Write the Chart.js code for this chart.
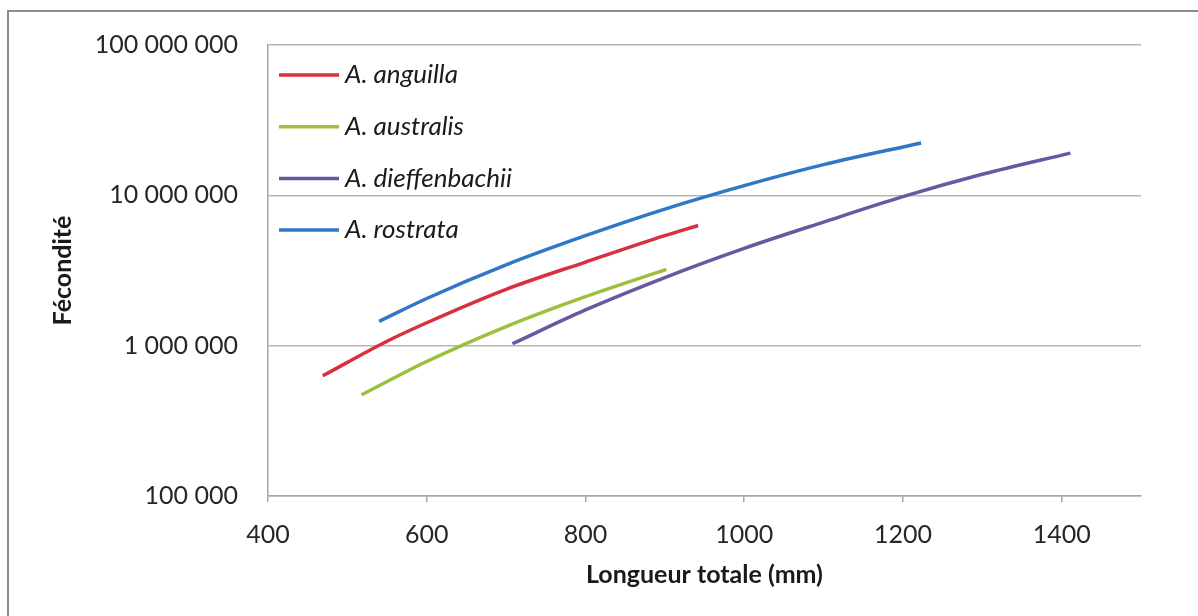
<!DOCTYPE html>
<html>
<head>
<meta charset="utf-8">
<script src="https://cdn.jsdelivr.net/npm/chart.js@4"></script>
<style>
  html, body { margin: 0; padding: 0; background: #fff; }
  #wrap { width: 1198px; height: 616px; }
</style>
</head>
<body>
<div id="wrap"><canvas id="myChart" width="1198" height="616"></canvas></div>
<script>
// séries (longueur totale en mm, fécondité)
var seriesNames = ['A. anguilla', 'A. australis', 'A. dieffenbachii', 'A. rostrata'];
var seriesColors = ['#d8303c', '#9cbf3e', '#6a57a2', '#2f78c5'];

var anguillaL = [469, 550, 600, 700, 800, 900, 942];
var anguillaF = [630000, 1070000, 1420000, 2370000, 3600000, 5400000, 6300000];

var australisL = [518, 600, 700, 800, 902];
var australisF = [472000, 785000, 1340000, 2120000, 3220000];

var dieffenbachiiL = [708, 800, 900, 1000, 1100, 1200, 1300, 1411];
var dieffenbachiiF = [1030000, 1730000, 2840000, 4440000, 6640000, 9800000, 13800000, 19100000];

var rostrataL = [540, 600, 700, 800, 900, 1000, 1100, 1223];
var rostrataF = [1450000, 2060000, 3450000, 5390000, 8100000, 11600000, 16000000, 22300000];

// graduations
var xTicks = [400, 600, 800, 1000, 1200, 1400];
var yTicks = [100000, 1000000, 10000000, 100000000];

function toPoints(xs, ys) {
  var pts = [];
  for (var i = 0; i < xs.length; i++) pts.push({ x: xs[i], y: ys[i] });
  return pts;
}
function fmt(v) {
  return String(v).replace(/\B(?=(\d{3})+(?!\d))/g, ' ');
}

var allL = [anguillaL, australisL, dieffenbachiiL, rostrataL];
var allF = [anguillaF, australisF, dieffenbachiiF, rostrataF];
var datasets = [];
for (var i = 0; i < seriesNames.length; i++) {
  datasets.push({
    label: seriesNames[i],
    data: toPoints(allL[i], allF[i]),
    borderColor: seriesColors[i],
    backgroundColor: seriesColors[i],
    borderWidth: 3.5,
    pointRadius: 0,
    showLine: true,
    cubicInterpolationMode: 'monotone'
  });
}

// cadre + légende dans la zone du graphique
var framePlugin = {
  id: 'frame',
  beforeDraw: function(chart) {
    var c = chart.ctx;
    c.save();
    c.fillStyle = '#fff';
    c.fillRect(0, 0, chart.width, chart.height);
    c.strokeStyle = '#8c8c8c';
    c.lineWidth = 2;
    c.beginPath();
    c.moveTo(8, chart.height);
    c.lineTo(8, 11);
    c.lineTo(chart.width, 11);
    c.stroke();
    c.restore();
  },
  afterDraw: function(chart) {
    var c = chart.ctx;
    var a = chart.chartArea;
    c.save();
    c.font = 'italic 26px Lato';
    c.textBaseline = 'middle';
    chart.data.datasets.forEach(function(ds, k) {
      var y = a.top + 30 + k * 51.7;
      c.strokeStyle = ds.borderColor;
      c.lineWidth = 3.5;
      c.beginPath();
      c.moveTo(a.left + 11, y);
      c.lineTo(a.left + 71, y);
      c.stroke();
      c.fillStyle = '#1a1a1a';
      c.fillText(ds.label, a.left + 77, y);
    });
    c.restore();
  }
};

var ctx = document.getElementById('myChart').getContext('2d');
var chart = new Chart(ctx, {
  type: 'scatter',
  data: { datasets: datasets },
  options: {
    responsive: false,
    animation: false,
    layout: { padding: { left: 30, top: 43, right: 57, bottom: 10 } },
    plugins: {
      legend: { display: false },
      tooltip: { enabled: false }
    },
    scales: {
      x: {
        type: 'linear',
        min: 400,
        max: 1500,
        afterFit: function(s) { s.height = 110; },
        afterBuildTicks: function(s) { s.ticks = xTicks.map(function(v) { return { value: v }; }); },
        border: { display: true, color: '#a6a6a6', width: 1.5 },
        grid: { drawOnChartArea: false, drawTicks: true, tickLength: 6, color: '#a6a6a6', lineWidth: 1.5 },
        ticks: {
          padding: 18,
          color: '#262626',
          font: { family: 'Lato', size: 25 },
          maxRotation: 0,
          callback: function(v) { return String(v); }
        },
        title: {
          display: true,
          text: 'Longueur totale (mm)',
          color: '#1a1a1a',
          font: { family: 'Lato', size: 25, weight: 'bold' },
          padding: { top: 0, bottom: 16 }
        }
      },
      y: {
        type: 'logarithmic',
        min: 100000,
        max: 100000000,
        afterFit: function(s) { s.width = 238; },
        afterBuildTicks: function(s) { s.ticks = yTicks.map(function(v) { return { value: v }; }); },
        border: { display: true, color: '#a6a6a6', width: 1.5 },
        grid: { drawTicks: false, color: '#b5b5b5', lineWidth: 1.5 },
        ticks: {
          padding: 30,
          color: '#262626',
          font: { family: 'Lato', size: 25 },
          callback: function(v) { return fmt(v); }
        },
        title: {
          display: true,
          text: 'Fécondité',
          color: '#1a1a1a',
          font: { family: 'Lato', size: 25, weight: 'bold' },
          padding: { top: 18, bottom: 0 }
        }
      }
    }
  },
  plugins: [framePlugin]
});
</script>
</body>
</html>
